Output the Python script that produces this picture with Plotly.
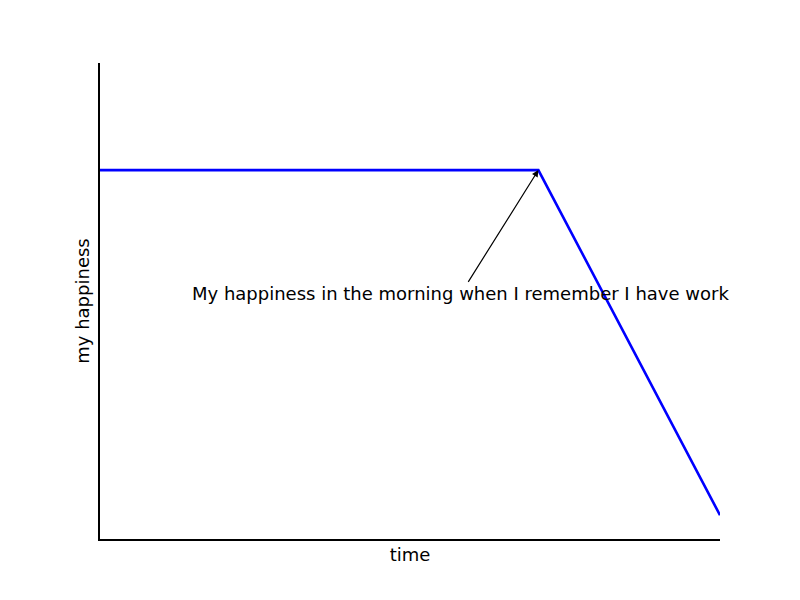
import plotly.graph_objects as go

# data: happiness over time (ones, then declining from index 70)
time_x = [0, 70, 99]
happiness = [1, 1, -28]

annot_point = (70, 1)
annot_text_pos = (57.6, -9.4)
annot_text = "My happiness in the morning when I remember I have work"

fig = go.Figure()
fig.add_trace(go.Scatter(x=time_x, y=happiness, mode="lines",
                         line=dict(color="#0000ff", width=2.6),
                         showlegend=False, hoverinfo="skip"))

fig.add_annotation(x=annot_point[0], y=annot_point[1], xref="x", yref="y",
                   ax=annot_text_pos[0], ay=annot_text_pos[1], axref="x", ayref="y",
                   text=annot_text, showarrow=True, arrowhead=2, arrowsize=1.1,
                   arrowwidth=1.2, arrowcolor="black",
                   font=dict(family="DejaVu Sans", size=18, color="black"))

fig.update_layout(
    width=800, height=600,
    margin=dict(l=100, r=80, t=63, b=61),
    plot_bgcolor="white", paper_bgcolor="white",
    font=dict(family="DejaVu Sans", color="black"),
    xaxis=dict(range=[0, 99], showgrid=False, zeroline=False, showticklabels=False,
               ticks="", showline=True, linecolor="black", linewidth=2,
               title=dict(text="time", font=dict(size=18), standoff=8)),
    yaxis=dict(range=[-30, 10], showgrid=False, zeroline=False, showticklabels=False,
               ticks="", showline=True, linecolor="black", linewidth=2,
               title=dict(text="my happiness", font=dict(size=18), standoff=4)),
)

fig.write_html("out.html")
